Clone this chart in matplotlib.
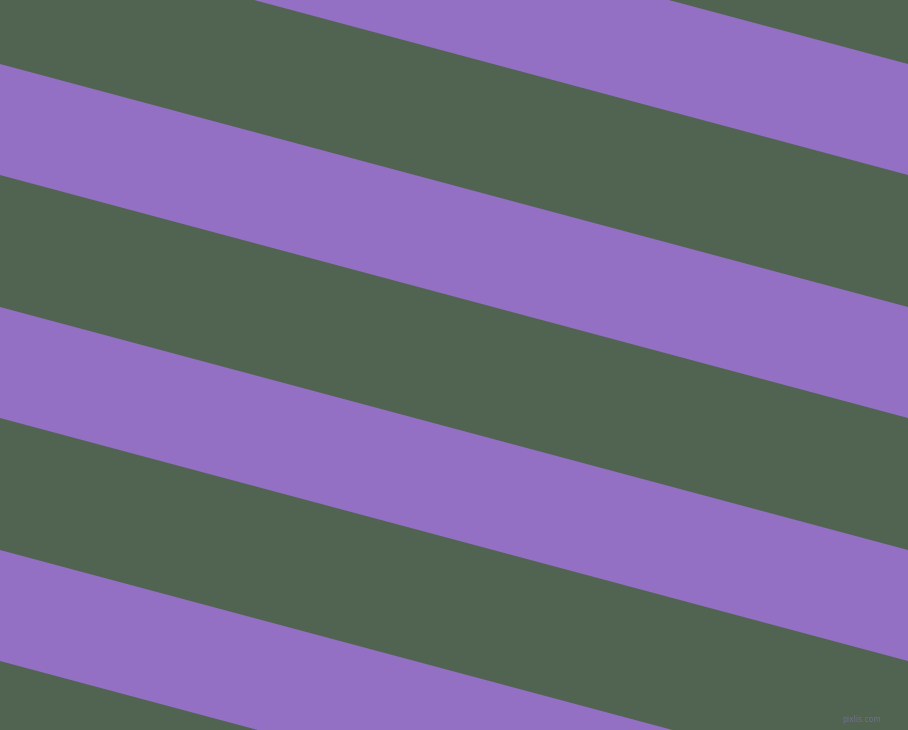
import numpy as np
import matplotlib
matplotlib.use('Agg')
import matplotlib.pyplot as plt

# stripe edges where they meet the left side (pixels from top)
purple_top = [-179, 64, 307, 550]
purple_bottom = [-68, 175, 418, 661]
# how far each edge drops going from left to right side
rise = 243
width, height = 908, 730

green = '#516452'
purple = '#9370c3'

fig = plt.figure(figsize=(9.08, 7.30), dpi=100)
ax = fig.add_axes([0, 0, 1, 1])
ax.set_facecolor(green)

xs = np.array([0, width])
for top, bot in zip(purple_top, purple_bottom):
    ax.fill_between(xs, [top, top + rise], [bot, bot + rise],
                    color=purple, linewidth=0)

ax.text(862, 719, 'pixlis.com', fontsize=5.5, color='#7a6fa0',
        ha='center', va='center', alpha=0.8)

ax.set_xlim(0, width)
ax.set_ylim(height, 0)
ax.axis('off')
fig.patch.set_facecolor(green)
fig.savefig('out.png', dpi=100, facecolor=green)
